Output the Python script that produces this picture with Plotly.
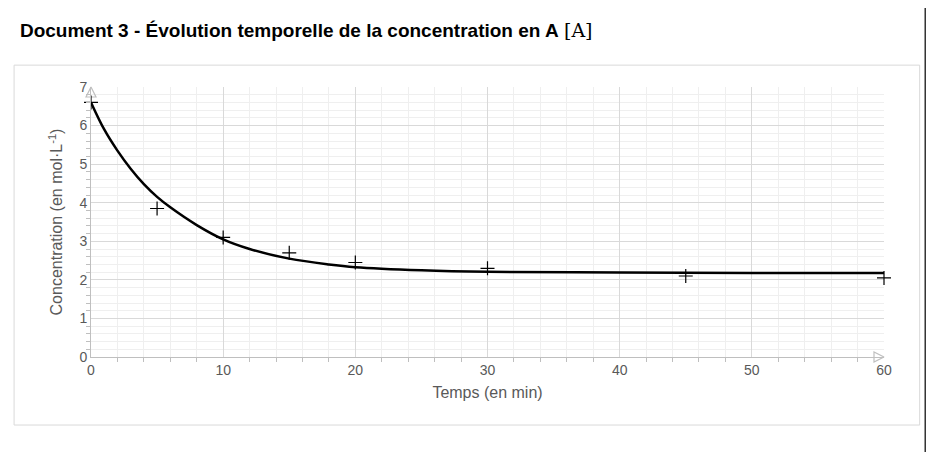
import plotly.graph_objects as go

t_meas = [0, 5, 10, 15, 20, 30, 45, 60]
c_meas = [6.6, 3.85, 3.1, 2.7, 2.45, 2.3, 2.1, 2.05]
t_fit = [0, 1, 2, 3, 4, 5, 6, 8, 10, 12, 15, 18, 20, 25, 30, 40, 50, 60]
c_fit = [6.6, 5.9, 5.35, 4.88, 4.48, 4.15, 3.88, 3.42, 3.05, 2.8, 2.55, 2.4, 2.33, 2.25, 2.21, 2.19, 2.18, 2.18]
arrow_x = [60, 0]
arrow_y = [0, 7]
title = "<b>Document 3 - Évolution temporelle de la concentration en A</b> <span style='font-family:DejaVu Serif'>[A]</span>"

fig = go.Figure()
fig.add_trace(go.Scatter(x=arrow_x, y=arrow_y, mode="markers", cliponaxis=False, hoverinfo="skip",
                         marker=dict(symbol=["arrow-right-open", "arrow-up-open"], size=10, color="#bfbfbf",
                                     line=dict(color="#bfbfbf", width=1.2))))
fig.add_trace(go.Scatter(x=t_fit, y=c_fit, mode="lines", line=dict(color="black", width=2.5, shape="spline"), hoverinfo="skip"))
fig.add_trace(go.Scatter(x=t_meas, y=c_meas, mode="markers", cliponaxis=False,
                         marker=dict(symbol="cross-thin", size=10, line=dict(color="black", width=1.2))))
grid = dict(showgrid=True, gridcolor="#d9d9d9", gridwidth=1,
            minor=dict(showgrid=True, gridcolor="#efefef", ticks="outside", ticklen=4, tickcolor="#bfbfbf"),
            showline=True, linecolor="#bfbfbf", ticks="", zeroline=False,
            tickfont=dict(family="Liberation Sans", size=14, color="#595959"))
fig.update_xaxes(range=[0, 60], dtick=10, minor_dtick=2,
                 title=dict(text="Temps (en min)", font=dict(family="Liberation Sans", size=16, color="#595959"), standoff=10), **grid)
fig.update_yaxes(range=[0, 7], dtick=1, minor_dtick=0.2,
                 title=dict(text="Concentration (en mol·L<sup>-1</sup>)", font=dict(family="Liberation Sans", size=16, color="#595959"), standoff=12), **grid)
fig.update_layout(width=919, height=444, showlegend=False, plot_bgcolor="white", paper_bgcolor="white",
                  margin=dict(l=83, r=43, t=79, b=95),
                  title=dict(text=title, xref="container", x=0.013, xanchor="left", yref="container", y=0.95, yanchor="middle",
                             font=dict(family="Liberation Sans", size=19, color="black")))
fig.add_shape(type="rect", xref="paper", yref="paper", x0=-0.106, x1=1.052, y0=-0.356, y1=1.296,
              line=dict(color="#333", width=1.5))
fig.add_shape(type="rect", xref="paper", yref="paper", x0=-0.097, x1=1.045, y0=-0.252, y1=1.081,
              line=dict(color="#d9d9d9", width=1))
fig.write_html("out.html")
